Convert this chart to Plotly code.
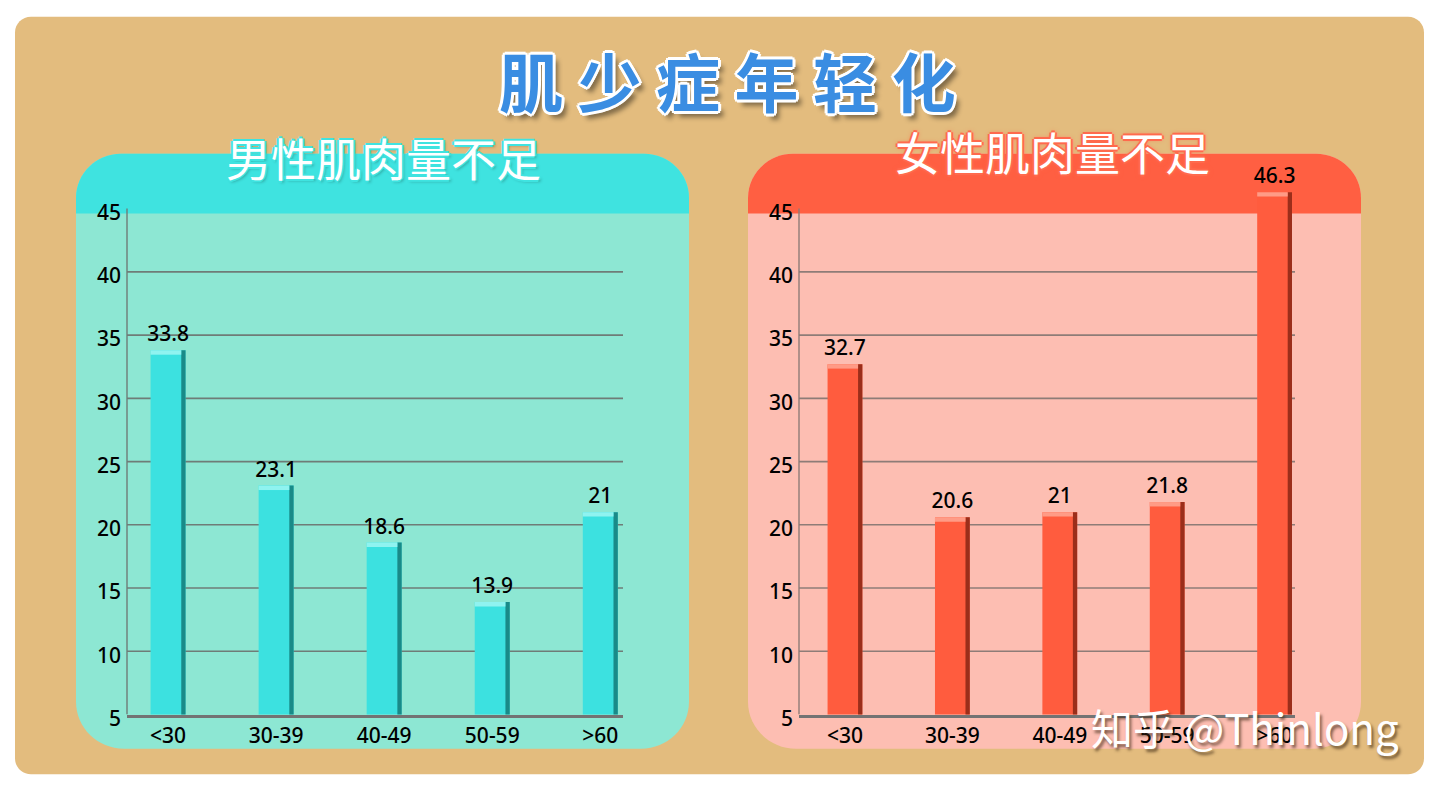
import plotly.graph_objects as go

# ---------------- data ----------------
CATEGORIES = ["<30", "30-39", "40-49", "50-59", ">60"]
MALE_VALUES = [33.8, 23.1, 18.6, 13.9, 21]
FEMALE_VALUES = [32.7, 20.6, 21, 21.8, 46.3]
Y_TICKS = [5, 10, 15, 20, 25, 30, 35, 40, 45]
GRID_VALUES = [10, 15, 20, 25, 30, 35, 40]
TITLE = "肌 少 症 年 轻 化"
LEFT_TITLE = "男性肌肉量不足"
RIGHT_TITLE = "女性肌肉量不足"
WATERMARK = "知乎 @Thinlong"

# ---------------- geometry helpers (page pixels -> paper) ----------------
OX, OY, W, H = 8, 8, 1424, 794


def fx(px):
    return (px - OX) / W


def fy(py):
    return 1 - (py - OY) / H


K = 0.5523


def rounded(x0, y0, x1, y1, rt, rb):
    """Rounded rectangle path (page px) with top radius rt, bottom radius rb."""
    X, Y = fx, fy
    p = [f"M {X(x0 + rt)},{Y(y0)}", f"L {X(x1 - rt)},{Y(y0)}"]
    if rt:
        p.append(f"C {X(x1 - rt + rt * K)},{Y(y0)} {X(x1)},{Y(y0 + rt - rt * K)} {X(x1)},{Y(y0 + rt)}")
    p.append(f"L {X(x1)},{Y(y1 - rb)}")
    if rb:
        p.append(f"C {X(x1)},{Y(y1 - rb + rb * K)} {X(x1 - rb + rb * K)},{Y(y1)} {X(x1 - rb)},{Y(y1)}")
    p.append(f"L {X(x0 + rb)},{Y(y1)}")
    if rb:
        p.append(f"C {X(x0 + rb - rb * K)},{Y(y1)} {X(x0)},{Y(y1 - rb + rb * K)} {X(x0)},{Y(y1 - rb)}")
    p.append(f"L {X(x0)},{Y(y0 + rt)}")
    if rt:
        p.append(f"C {X(x0)},{Y(y0 + rt - rt * K)} {X(x0 + rt - rt * K)},{Y(y0)} {X(x0 + rt)},{Y(y0)}")
    p.append("Z")
    return " ".join(p)


# ---------------- colours ----------------
TAN = "#E3BC7E"
TEAL_HEAD = "#3FE3E0"
TEAL_BODY = "#8DE7D3"
CORAL_HEAD = "#FF5F42"
CORAL_BODY = "#FDBEB2"
TEAL_BAR = "#3CE1E0"
TEAL_DARK = "#137a78"
TEAL_HI = "#8FF3F0"
CORAL_BAR = "#FF5C3E"
CORAL_DARK = "#8a2614"
CORAL_HI = "#FF9B86"

NUM_FONT = "Noto Sans"
CJK_FONT = "Noto Sans CJK SC"

fig = go.Figure()
BAR_W = 0.324
SH_W = 0.04


def add_bars(values, xa, ya, main, dark, hi):
    fig.add_trace(go.Bar(
        x=CATEGORIES, y=values, xaxis=xa, yaxis=ya,
        width=BAR_W, offset=-BAR_W / 2,
        marker=dict(color=main, line=dict(width=0)),
        text=values, texttemplate="%{y}", textposition="outside",
        constraintext="none",
        textfont=dict(family=NUM_FONT, size=21, color="black", weight=500),
        showlegend=False, hoverinfo="x+y",
    ))
    fig.add_trace(go.Bar(
        x=CATEGORIES, y=values, xaxis=xa, yaxis=ya,
        width=SH_W, offset=BAR_W / 2 - SH_W,
        marker=dict(color=dark, line=dict(width=0), opacity=0.85),
        showlegend=False, hoverinfo="skip",
    ))
    fig.add_trace(go.Bar(
        x=CATEGORIES, y=[0.35] * len(values), base=[v - 0.35 for v in values],
        xaxis=xa, yaxis=ya,
        width=BAR_W - SH_W, offset=-BAR_W / 2,
        marker=dict(color=hi, line=dict(width=0)),
        showlegend=False, hoverinfo="skip",
    ))


add_bars(MALE_VALUES, "x", "y", TEAL_BAR, TEAL_DARK, TEAL_HI)
add_bars(FEMALE_VALUES, "x2", "y2", CORAL_BAR, CORAL_DARK, CORAL_HI)

Y_RANGE = [5, 49]
y_dom = [fy(730), fy(730 - 44 * 12.925)]

common_x = dict(
    type="category", categoryorder="array", categoryarray=CATEGORIES,
    showline=True, linewidth=3, linecolor="#737373",
    showgrid=False, zeroline=False, ticks="",
    tickfont=dict(family=NUM_FONT, size=21, color="black", weight=500),
    fixedrange=True,
)
common_y = dict(
    range=Y_RANGE, tickmode="array", tickvals=Y_TICKS, ticktext=[str(t) for t in Y_TICKS],
    showgrid=False, showline=False, zeroline=False, ticks="",
    tickfont=dict(family=NUM_FONT, size=21, color="black", weight=500),
    ticklabelshift=4, ticklabelstandoff=5,
    fixedrange=True,
)

fig.update_layout(
    width=W, height=H,
    margin=dict(l=0, r=0, t=0, b=0),
    paper_bgcolor="white",
    plot_bgcolor="rgba(0,0,0,0)",
    barmode="overlay",
    showlegend=False,
    xaxis=dict(common_x, domain=[fx(127), fx(623)], range=[-0.38, 4.21], anchor="y"),
    yaxis=dict(common_y, domain=y_dom, anchor="x"),
    xaxis2=dict(common_x, domain=[fx(799), fx(1295)], range=[-0.428, 4.19], anchor="y2"),
    yaxis2=dict(common_y, domain=y_dom, anchor="x2"),
)

shapes = []
# outer tan board
shapes.append(dict(type="path", xref="paper", yref="paper", layer="below",
                   path=rounded(15, 17, 1424, 791, 16, 16),
                   fillcolor=TAN, line=dict(width=0)))
# panels (body + header band)
for (x0, x1, body, head) in [(76, 689, TEAL_BODY, TEAL_HEAD), (748, 1361, CORAL_BODY, CORAL_HEAD)]:
    shapes.append(dict(type="path", xref="paper", yref="paper", layer="below",
                       path=rounded(x0, 157, x1, 765, 45, 48),
                       fillcolor=body, line=dict(width=0)))
    shapes.append(dict(type="path", xref="paper", yref="paper", layer="below",
                       path=rounded(x0, 157, x1, 218, 45, 0),
                       fillcolor=head, line=dict(width=0)))
# grid lines and y-axis lines (data coordinates)
for xa, ya, gcol in [("x", "y", "#6F7C77"), ("x2", "y2", "#8E7C77")]:
    for g in GRID_VALUES:
        shapes.append(dict(type="line", xref=f"{xa} domain", yref=ya, layer="below",
                           x0=0, x1=1, y0=g, y1=g, line=dict(color=gcol, width=1.6)))
    shapes.append(dict(type="line", xref=f"{xa} domain", yref=ya, layer="below",
                       x0=0, x1=0, y0=Y_TICKS[0], y1=Y_TICKS[-1],
                       line=dict(color=gcol, width=1.4)))
fig.update_layout(shapes=shapes)

# ---------------- texts ----------------
white_outline = ("3px 0 0 #fff, -3px 0 0 #fff, 0 3px 0 #fff, 0 -3px 0 #fff, "
                 "2px 2px 0 #fff, -2px -2px 0 #fff, 2px -2px 0 #fff, -2px 2px 0 #fff, "
                 "5px 6px 5px rgba(0,0,0,0.45)")
teal_halo = ("2px 0 0 #3FE3E0, -2px 0 0 #3FE3E0, 0 2px 0 #3FE3E0, 0 -2px 0 #3FE3E0, "
             "2px 2px 3px rgba(0,0,0,0.25)")
coral_halo = ("2px 0 0 #FF6A4D, -2px 0 0 #FF6A4D, 0 2px 0 #FF6A4D, 0 -2px 0 #FF6A4D, "
              "0 0 5px #FF6A4D")

annotations = [
    dict(text=f"<b>{TITLE}</b>", x=fx(727), y=fy(81), xref="paper", yref="paper",
         xanchor="center", yanchor="middle", showarrow=False,
         font=dict(family=CJK_FONT, size=64, color="#3A8DE2", shadow=white_outline)),
    dict(text=LEFT_TITLE, x=fx(383), y=fy(161), xref="paper", yref="paper",
         xanchor="center", yanchor="middle", showarrow=False,
         font=dict(family=CJK_FONT, size=45, color="white", shadow=teal_halo)),
    dict(text=RIGHT_TITLE, x=fx(1052), y=fy(155), xref="paper", yref="paper",
         xanchor="center", yanchor="middle", showarrow=False,
         font=dict(family=CJK_FONT, size=45, color="white", shadow=coral_halo)),
    dict(text=WATERMARK, x=fx(1245), y=fy(742), xref="paper", yref="paper",
         xanchor="center", yanchor="middle", showarrow=False,
         font=dict(family=CJK_FONT, size=42, color="white",
                   shadow="2px 3px 3px rgba(60,40,20,0.65)")),
]
fig.update_layout(annotations=annotations)

fig.write_html("out.html")
